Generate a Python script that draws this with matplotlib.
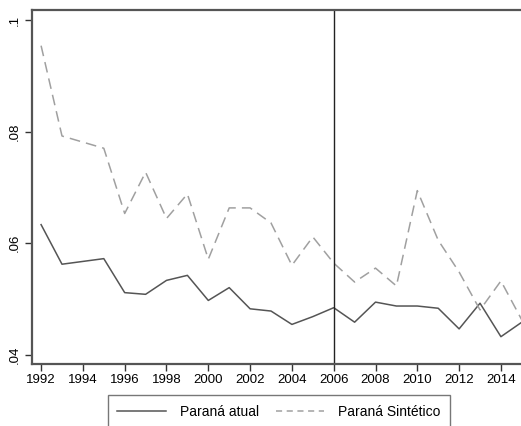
import matplotlib
matplotlib.use("Agg")
import matplotlib.pyplot as plt
import numpy as np

plt.rcParams['font.family'] = ['Liberation Sans', 'DejaVu Sans']

years = list(range(1992, 2016))
actual = [0.0633, 0.0562, 0.0567, 0.0572, 0.0511, 0.0508, 0.0533, 0.0542,
          0.0497, 0.0520, 0.0482, 0.0478, 0.0454, 0.0468, 0.0484, 0.0458,
          0.0494, 0.0487, 0.0487, 0.0483, 0.0446, 0.0492, 0.0432, 0.0458]
synthetic = [0.0954, 0.0792, 0.0781, 0.0770, 0.0653, 0.0727, 0.0644, 0.0688,
             0.0571, 0.0663, 0.0663, 0.0636, 0.0560, 0.0611, 0.0564, 0.0530,
             0.0555, 0.0523, 0.0694, 0.0605, 0.0548, 0.0480, 0.0532, 0.0462]
xticks = list(range(1992, 2015, 2))
yticks = [0.04, 0.06, 0.08, 0.10]
ytick_labels = ['.04', '.06', '.08', '.1']
labels = ['Paraná atual', 'Paraná Sintético']
treat_year = 2006

fig = plt.figure(figsize=(5.21, 4.26), dpi=100)
ax = fig.add_axes([32/521, 1-364/426, 1-32/521+0.01, (364-10)/426])

ax.plot(years, actual, color='#555555', lw=1.1, label=labels[0])
ax.plot(years, synthetic, color='#a0a0a0', lw=1.1, dashes=(7, 4), label=labels[1])
ax.axvline(treat_year, color='#222222', lw=1.0)

ax.set_xlim(1991.565, 2015.21)
ax.set_ylim(0.0383, 0.1018)
ax.set_xticks(xticks)
ax.set_xticklabels([str(x) for x in xticks], fontsize=9.5)
ax.set_yticks(yticks)
ax.set_yticklabels(ytick_labels, fontsize=9.5, rotation=90, va='center')
ax.tick_params(axis='both', direction='out', length=5, width=1, color='#333333')
ax.tick_params(axis='x', pad=2)
ax.tick_params(axis='y', pad=3)

for s in ['left', 'top', 'bottom']:
    ax.spines[s].set_color('#555555')
    ax.spines[s].set_linewidth(1.6)
ax.spines['right'].set_visible(False)

leg = fig.legend(loc='center', bbox_to_anchor=(279/521, 1-411.5/426), ncol=2,
                 fontsize=10, frameon=True, fancybox=False, handlelength=3.5,
                 handletextpad=1.0, columnspacing=1.2, borderpad=0.7)
leg.get_frame().set_edgecolor('#555555')
leg.get_frame().set_linewidth(1.0)
leg.get_lines()[1].set_dashes((4, 3))

fig.savefig('out.png', dpi=100)
